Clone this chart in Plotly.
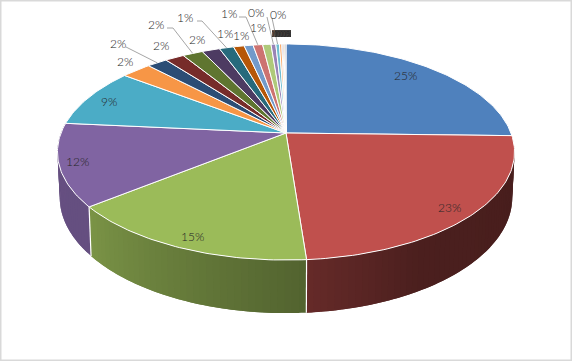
import numpy as np
import plotly.graph_objects as go

# ---- data ----
categories = ["A","B","C","D","E","F","G","H","I","J","K","L","M","N","O","P","Q","R","S","T","U","V"]
values = [25.4, 23.4, 15.4, 12.3, 8.9, 2.5, 1.7, 1.6, 1.7, 1.5, 1.2, 0.9, 0.75, 0.8, 0.7, 0.4, 0.3, 0.2, 0.09, 0.09, 0.09, 0.08]
colors = ["#4F81BD","#C0504D","#9BBB59","#8064A2","#4BACC6","#F79646","#2C4D75","#772C2A","#5F7530","#4D3B62",
          "#276A7C","#B65708","#729ACA","#CD7371","#AFC97A","#9983B5","#6FBDD1","#F9AB6B","#3A679C","#9E3D3A","#7D9B40","#644E80"]

# ---- label placement: centre of each label, and elbow of any leader line ----
label_xy = {0:(405,75),1:(449,207),2:(192,236),3:(77,161),4:(109,101),5:(125,61),6:(118,43),7:(161,45),
            8:(156,24),9:(197,39),10:(185,17),11:(225,33),12:(241,35),13:(229,13),14:(258,27),15:(256,12),16:(278,14)}
leader_from = {6:[(126,47)],8:[(167,28),(173,28)],10:[(197,21),(202,21)],13:[(239,17),(246,17)],15:[(267,17)],16:[(272,18)]}
stack_x = [275,278,281,284,287]
stack_y = 33.5

# ---- projection of the tilted disc ----
CX, CY, A, B, K, H = 286, 133, 225, 104.7, 0.176, 43.7

def top(t):
    w = 1 + K*np.cos(t)
    return CX + A*np.sin(t)/w, CY - B*np.cos(t)/w

def bottom(t):
    w = 1 + K*np.cos(t)
    return CX + 0.99*A*np.sin(t)/w, CY - B*np.cos(t)/w + H/w

def shade(hexc, f):
    r, g, b = [int(hexc[i:i+2], 16) for i in (1, 3, 5)]
    return f"rgb({r*f:.0f},{g*f:.0f},{b*f:.0f})"

edges = np.radians(np.concatenate([[0], np.cumsum(values)]) / sum(values) * 360)
fig = go.Figure()

# side wall, as shaded strips that overlap the next one so no seams show
T0, T1 = np.radians(97), np.radians(276)
for i, c in enumerate(colors):
    a0, a1 = max(edges[i], T0), min(edges[i+1], T1)
    if a1 <= a0:
        continue
    n = max(1, int(np.degrees(a1-a0)/1.5))
    grid = np.linspace(a0, a1, n+1)
    for s in range(n):
        tt = np.linspace(grid[s], grid[min(s+2, n)], 4)
        xt, yt = top(tt)
        xb, yb = bottom(tt[::-1])
        f = np.interp(np.degrees((grid[s]+grid[s+1])/2), [97,150,176,231,276], [0.37,0.39,0.53,0.79,0.8])
        fig.add_trace(go.Scatter(x=np.r_[xt, xb], y=np.r_[yt, yb], mode="none", fill="toself",
                                 fillcolor=shade(c, f), hoverinfo="skip"))
for i in range(1, len(colors)):
    if T0 < edges[i] < T1:
        x0, y0 = top(edges[i]); x1, y1 = bottom(edges[i])
        fig.add_trace(go.Scatter(x=[x0, x1], y=[y0, y1], mode="lines", line=dict(color="white", width=1.2), hoverinfo="skip"))

# top face
for i, c in enumerate(colors):
    tt = np.linspace(edges[i], edges[i+1], max(3, int(np.degrees(edges[i+1]-edges[i]))+2))
    xt, yt = top(tt)
    fig.add_trace(go.Scatter(x=np.r_[CX, xt, CX], y=np.r_[CY, yt, CY], mode="lines", fill="toself",
                             fillcolor=c, line=dict(color="white", width=1), hoverinfo="skip", name=categories[i]))

# leader lines
for i, pts in leader_from.items():
    ex, ey = top((edges[i]+edges[i+1])/2)
    fig.add_trace(go.Scatter(x=[p[0] for p in pts]+[float(ex)], y=[p[1] for p in pts]+[float(ey)], mode="lines",
                             line=dict(color="#a6a6a6", width=1), hoverinfo="skip"))

# data labels
anns = []
for i, (x, y) in label_xy.items():
    anns.append(dict(x=x, y=y, text=f"{round(values[i])}%", showarrow=False,
                     font=dict(family="Lato", size=12, color="#262626", weight=300)))
for j, x in enumerate(stack_x):
    anns.append(dict(x=x, y=stack_y, text=f"{round(values[17+j])}%", showarrow=False, borderpad=0, borderwidth=0,
                     height=7, width=7, bgcolor="#3f3c3a" if j else "#6b5548",
                     font=dict(family="Lato", size=8, color="#262626")))

fig.update_layout(
    width=572, height=361, margin=dict(l=0, r=0, t=0, b=0), showlegend=False,
    paper_bgcolor="white", plot_bgcolor="white", annotations=anns,
    xaxis=dict(range=[0, 572], visible=False, fixedrange=True),
    yaxis=dict(range=[361, 0], visible=False, fixedrange=True),
    shapes=[dict(type="rect", xref="paper", yref="paper", x0=0, y0=0, x1=1, y1=1,
                 line=dict(color="#d9d9d9", width=3), fillcolor="rgba(0,0,0,0)")],
)
fig.write_html("out.html", config=dict(displayModeBar=False),
               post_script="document.body.style.margin='0';document.documentElement.style.overflow='hidden';")
